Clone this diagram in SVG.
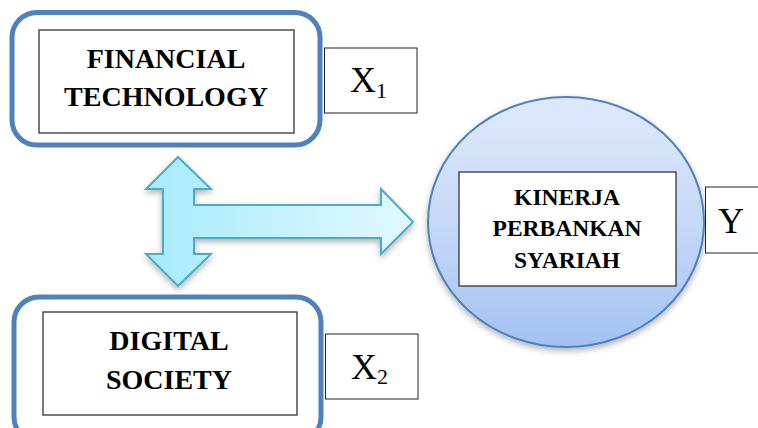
<svg xmlns="http://www.w3.org/2000/svg" width="758" height="428" viewBox="0 0 758 428">
<defs>
<linearGradient id="gArrow" x1="0" y1="0" x2="1" y2="0">
<stop offset="0" stop-color="#a6ebfb"/>
<stop offset="1" stop-color="#e3f8ff"/>
</linearGradient>
<linearGradient id="gCircle" x1="0" y1="0" x2="0" y2="1">
<stop offset="0" stop-color="#dfe9fc"/>
<stop offset="0.5" stop-color="#c6d9f8"/>
<stop offset="1" stop-color="#a3c1f3"/>
</linearGradient>
<filter id="shadow" x="-20%" y="-20%" width="140%" height="140%">
<feDropShadow dx="0" dy="3" stdDeviation="3" flood-color="#000" flood-opacity="0.3"/>
</filter>
</defs>
<style>
.outer{fill:#fff;stroke:#4f81bd;stroke-width:5}
.inner{fill:#fff;stroke:#333;stroke-width:1.3}
.lbl{fill:#fff;stroke:#222;stroke-width:1}
.t{font-family:"Liberation Serif","Times New Roman",serif;font-weight:bold;fill:#000;text-anchor:middle}
.v{font-family:"Liberation Serif","Times New Roman",serif;fill:#000}
</style>
<rect width="758" height="428" fill="#fff"/>

<g id="financial-technology">
<rect class="outer" x="12" y="12.5" width="308" height="132.5" rx="25"/>
<rect class="inner" x="39" y="30" width="255" height="103"/>
<text class="t" x="166" y="68" font-size="28">FINANCIAL</text>
<text class="t" x="166" y="106" font-size="28">TECHNOLOGY</text>
</g>

<g id="x1">
<rect class="lbl" x="324.5" y="48" width="92.5" height="65"/>
<text class="v" x="350" y="92" font-size="36">X<tspan font-size="22" dy="6">1</tspan></text>
</g>

<g id="digital-society">
<rect class="outer" x="14" y="297" width="307" height="145" rx="25"/>
<rect class="inner" x="43" y="312" width="254" height="103"/>
<text class="t" x="169" y="350" font-size="28">DIGITAL</text>
<text class="t" x="169" y="389" font-size="28">SOCIETY</text>
</g>

<g id="x2">
<rect class="lbl" x="325.5" y="334" width="92.5" height="65"/>
<text class="v" x="351" y="379" font-size="36">X<tspan font-size="22" dy="5">2</tspan></text>
</g>

<g id="kinerja">
<ellipse cx="566" cy="222" rx="138" ry="125" fill="url(#gCircle)" stroke="#4f81bd" stroke-width="2" filter="url(#shadow)"/>
<rect class="inner" x="459" y="172" width="217" height="114"/>
<text class="t" x="567" y="205" font-size="23.5">KINERJA</text>
<text class="t" x="567" y="236" font-size="23.5">PERBANKAN</text>
<text class="t" x="567" y="268" font-size="23.5">SYARIAH</text>
</g>

<g id="y">
<rect class="lbl" x="705.5" y="187" width="60" height="66"/>
<text class="v" x="718" y="233" font-size="36">Y</text>
</g>

<g id="connectors">
<path d="M178,157 L211,189 L194,189 L194,205 L381,205 L381,189 L413,222 L381,254 L381,238 L194,238 L194,254 L211,254 L178,286 L146,254 L163,254 L163,189 L146,189 Z" fill="url(#gArrow)" stroke="#4bacc6" stroke-width="2" stroke-linejoin="miter" filter="url(#shadow)"/>
</g>
</svg>
